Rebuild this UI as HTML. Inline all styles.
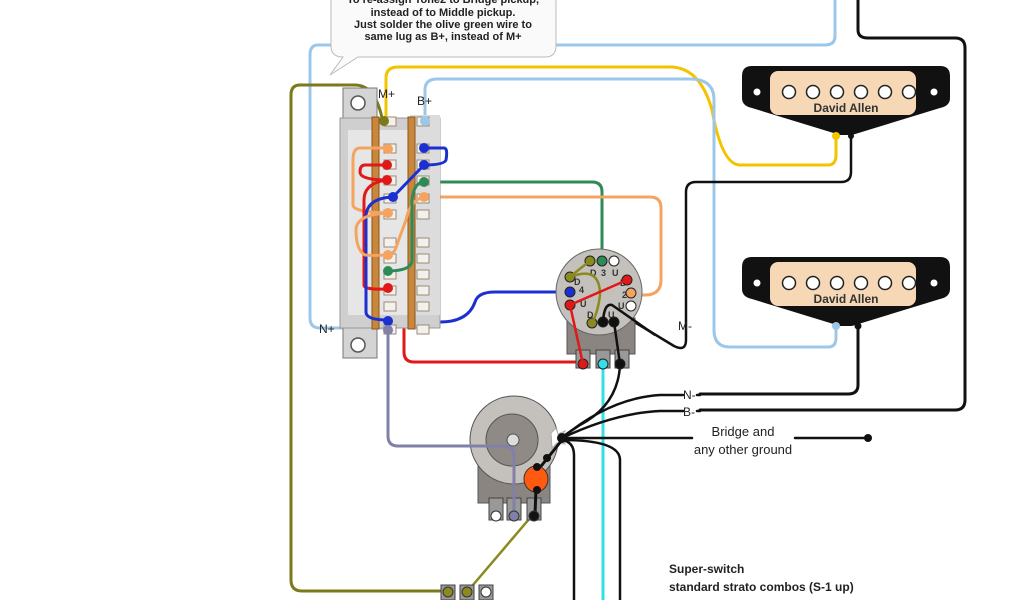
<!DOCTYPE html>
<html><head><meta charset="utf-8"><style>
html,body{margin:0;padding:0;background:#fff;}
svg{display:block;}
text{font-family:"Liberation Sans",sans-serif;}
</style></head><body>
<svg width="1024" height="600" viewBox="0 0 1024 600" xmlns="http://www.w3.org/2000/svg">
<rect width="1024" height="600" fill="#fff"/>
<g fill="none" stroke-linecap="round" stroke-linejoin="round">
<!-- light blue top -->
<path d="M835 0 V36 Q835 45 825 45 H555" stroke="#9cc7e8" stroke-width="3"/>
<path d="M330 45 H318 Q310 45 310 55 V318 Q310 328 320 328 H388" stroke="#9cc7e8" stroke-width="3"/>
<!-- black top -->
<path d="M858 0 V30 Q858 38 868 38 H955 Q965 38 965 48 V400 Q965 410 955 410 H700" stroke="#111" stroke-width="3"/>
<!-- yellow -->
<path d="M386 118 V78 Q386 67 398 67 H670 Q700 67 712 110 Q722 165 740 165 H828 Q836 165 836 155 V136" stroke="#f2c400" stroke-width="3"/>
<!-- light blue B+ -->
<path d="M425 118 V90 Q425 79 437 79 H690 Q714 79 714 100 V330 Q714 347 730 347 H828 Q836 347 836 338 V325" stroke="#9cc7e8" stroke-width="3"/>
<!-- black M- -->
<path d="M851 138 V172 Q851 182 841 182 H696 Q686 182 686 192 V340 Q686 352 674 346 L608 306" stroke="#111" stroke-width="2.5"/>
<!-- bottom pickup black -->
<path d="M858 325 V385 Q858 394 848 394 H700" stroke="#111" stroke-width="3"/>
<!-- green -->
<path d="M425 182 H592 Q602 182 602 192 V262" stroke="#2e8b57" stroke-width="3"/>
<!-- orange -->
<path d="M425 197 H650 Q661 197 661 208 V280 Q661 295 645 295 H625" stroke="#f4a460" stroke-width="3"/>
<!-- blue -->
<path d="M388 322 H440 Q468 322 475 302 Q478 292 495 292 H578" stroke="#1c2fd0" stroke-width="3"/>
<!-- red -->
<path d="M388 288 H398 Q404 288 404 298 V352 Q404 362 414 362 H584" stroke="#e01818" stroke-width="3"/>
<!-- olive -->
<path d="M382 118 Q375 85 355 85 H300 Q291 85 291 95 V580 Q291 591 302 591 H448" stroke="#7a7a1a" stroke-width="3"/>
<path d="M467 592 L530 518" stroke="#8a8a20" stroke-width="2.5"/>
<!-- purple -->
<path d="M388 330 V436 Q388 446 398 446 H502 Q512 446 512 456 V515" stroke="#8080a8" stroke-width="3"/>
<!-- cyan -->
<path d="M603 362 V600" stroke="#33e0e8" stroke-width="3"/>
<!-- ground wires -->
<path d="M562 438 Q610 398 660 395 H683 M697 395 H700" stroke="#111" stroke-width="2.5"/>
<path d="M562 438 Q615 413 660 411 H683 M697 411 H700" stroke="#111" stroke-width="2.5"/>
<path d="M562 438 H692 M795 438 H868" stroke="#111" stroke-width="2.5"/>
<path d="M562 440 Q574 442 574 455 V600" stroke="#111" stroke-width="2.5"/>
<path d="M562 440 Q620 440 620 460 V600" stroke="#111" stroke-width="2.5"/>
<path d="M620 365 Q618 405 580 425 L562 437" stroke="#111" stroke-width="2.5"/>
</g>
<circle cx="868" cy="438" r="4" fill="#111"/>

<!-- callout -->
<path d="M340 -10 H545 Q556 -10 556 2 V46 Q556 57 545 57 H358 L330 75 L343 57 Q331 57 331 46 V2 Q331 -10 340 -10Z" fill="#fafafa" stroke="#bbb" stroke-width="1"/>
<g font-size="11" font-weight="bold" fill="#222" text-anchor="middle">
<text x="443" y="3">To re-assign Tone2 to Bridge pickup,</text>
<text x="443" y="16">instead of to Middle pickup.</text>
<text x="443" y="28">Just solder the olive green wire to</text>
<text x="443" y="40">same lug as B+, instead of M+</text>
</g>

<!-- selector switch -->
<rect x="343" y="88" width="34" height="270" fill="#d4d4d4" stroke="#777"/>
<circle cx="358" cy="103" r="7" fill="#fff" stroke="#555" stroke-width="1.5"/>
<circle cx="358" cy="345" r="7" fill="#fff" stroke="#555" stroke-width="1.5"/>
<rect x="340" y="118" width="100" height="210" fill="#cfcfcf" stroke="#999"/>
<rect x="348" y="130" width="74" height="185" fill="#e6e6e6"/>
<rect x="410" y="115" width="30" height="200" fill="#dcdcdc"/>
<rect x="372" y="117" width="7" height="212" fill="#c8873a" stroke="#8a5420"/>
<rect x="408" y="117" width="7" height="212" fill="#c8873a" stroke="#8a5420"/>
<g fill="#f4f1ec" stroke="#9a8a78" stroke-width="1">
<rect x="384" y="117" width="12" height="9"/><rect x="417" y="117" width="12" height="9"/>
<rect x="384" y="144" width="12" height="9"/><rect x="384" y="160" width="12" height="9"/><rect x="384" y="176" width="12" height="9"/><rect x="384" y="194" width="12" height="9"/><rect x="384" y="210" width="12" height="9"/>
<rect x="384" y="238" width="12" height="9"/><rect x="384" y="254" width="12" height="9"/><rect x="384" y="270" width="12" height="9"/><rect x="384" y="286" width="12" height="9"/><rect x="384" y="302" width="12" height="9"/><rect x="384" y="325" width="12" height="9"/>
<rect x="417" y="144" width="12" height="9"/><rect x="417" y="160" width="12" height="9"/><rect x="417" y="176" width="12" height="9"/><rect x="417" y="194" width="12" height="9"/><rect x="417" y="210" width="12" height="9"/>
<rect x="417" y="238" width="12" height="9"/><rect x="417" y="254" width="12" height="9"/><rect x="417" y="270" width="12" height="9"/><rect x="417" y="286" width="12" height="9"/><rect x="417" y="302" width="12" height="9"/><rect x="417" y="325" width="12" height="9"/>
</g>
<g fill="none" stroke-width="3">
<path d="M387 148 H360 Q353 148 353 160 V205 Q353 212 387 213" stroke="#f4a460"/>
<path d="M387 165 H365 Q360 165 360 172 Q360 180 387 180" stroke="#e01818"/>
<path d="M387 180 Q364 183 364 200 V285 Q364 290 387 289" stroke="#e01818"/>
<path d="M393 197 Q368 198 366 215 V312 Q366 320 388 320" stroke="#1c2fd0"/>
<path d="M424 148 H444 Q448 148 446 160 Q444 165 424 165 L393 197" stroke="#1c2fd0"/>
<path d="M424 197 Q410 200 406 220 L395 250 Q392 257 365 255 Q356 250 356 230 Q356 215 387 213" stroke="#f4a460"/>
<path d="M424 182 Q414 182 412 200 V260 Q412 271 387 271" stroke="#2e8b57"/>
</g>
<g>
<circle cx="384" cy="121" r="5" fill="#7a7a1a"/><circle cx="425" cy="121" r="5" fill="#9cc7e8"/>
<circle cx="388" cy="149" r="5" fill="#f4a460"/><circle cx="387" cy="165" r="5" fill="#e01818"/><circle cx="387" cy="180" r="5" fill="#e01818"/><circle cx="393" cy="197" r="5" fill="#1c2fd0"/><circle cx="388" cy="213" r="5" fill="#f4a460"/>
<circle cx="388" cy="255" r="5" fill="#f4a460"/><circle cx="388" cy="271" r="5" fill="#2e8b57"/><circle cx="388" cy="288" r="5" fill="#e01818"/><circle cx="388" cy="321" r="5" fill="#1c2fd0"/><circle cx="388" cy="330" r="5" fill="#8080a8"/>
<circle cx="424" cy="148" r="5" fill="#1c2fd0"/><circle cx="424" cy="165" r="5" fill="#1c2fd0"/><circle cx="424" cy="182" r="5" fill="#2e8b57"/><circle cx="424" cy="197" r="5" fill="#f4a460"/>
</g>
<text x="378" y="98" font-size="12" fill="#222">M+</text>
<text x="417" y="105" font-size="12" fill="#222">B+</text>
<text x="319" y="333" font-size="12" fill="#222">N+</text>

<!-- rotary switch -->
<rect x="567" y="318" width="68" height="36" fill="#8a8580" stroke="#555"/>
<rect x="576" y="350" width="14" height="18" fill="#999" stroke="#444"/><rect x="596" y="350" width="14" height="18" fill="#999" stroke="#444"/><rect x="615" y="350" width="14" height="18" fill="#999" stroke="#444"/>
<circle cx="599" cy="292" r="43" fill="#c4c0bc" stroke="#666"/>
<g font-size="9" fill="#333" font-weight="bold"><text x="590" y="276">D</text><text x="601" y="276">3</text><text x="612" y="276">U</text><text x="574" y="285">D</text><text x="620" y="286">D</text><text x="579" y="293">4</text><text x="622" y="298">2</text><text x="580" y="307">U</text><text x="618" y="309">U</text><text x="587" y="318">D</text><text x="608" y="318">U</text></g>
<g stroke="#222" stroke-width="1">
<circle cx="590" cy="261" r="5" fill="#8a8a20"/><circle cx="602" cy="261" r="5" fill="#2e8b57"/><circle cx="614" cy="261" r="5" fill="#fff"/>
<circle cx="570" cy="277" r="5" fill="#8a8a20"/><circle cx="570" cy="292" r="5" fill="#1c2fd0"/><circle cx="570" cy="305" r="5" fill="#e01818"/>
<circle cx="627" cy="280" r="5" fill="#e01818"/><circle cx="631" cy="293" r="5" fill="#f4a460"/><circle cx="631" cy="306" r="5" fill="#fff"/>
<circle cx="592" cy="323" r="5" fill="#8a8a20"/><circle cx="603" cy="322" r="5" fill="#111"/><circle cx="614" cy="322" r="5" fill="#111"/>
<circle cx="583" cy="364" r="5" fill="#e01818"/><circle cx="603" cy="364" r="5" fill="#33e0e8"/><circle cx="620" cy="364" r="5" fill="#111"/>
</g>
<g fill="none" stroke-width="2.5">
<path d="M590 261 Q578 270 570 277" stroke="#8a8a20"/>
<path d="M570 277 Q600 265 600 295 Q598 312 592 323" stroke="#8a8a20"/>
<path d="M570 305 L627 280" stroke="#e01818"/>
<path d="M570 305 L583 364" stroke="#e01818"/>
<path d="M603 322 Q604 303 612 305 L655 335" stroke="#111"/>
<path d="M614 322 L620 364" stroke="#111"/>
</g>
<text x="678" y="330" font-size="12" fill="#222">M-</text>

<!-- pot -->
<rect x="478" y="455" width="72" height="48" fill="#8a8580" stroke="#555"/>
<rect x="489" y="498" width="14" height="22" fill="#999" stroke="#444"/><rect x="507" y="498" width="14" height="22" fill="#999" stroke="#444"/><rect x="527" y="498" width="14" height="22" fill="#999" stroke="#444"/>
<circle cx="514" cy="440" r="44" fill="#c4c0bc" stroke="#555"/>
<circle cx="512" cy="440" r="26" fill="#8f8a85" stroke="#555"/>
<circle cx="513" cy="440" r="6" fill="#ddd" stroke="#555"/>
<path d="M460 446 H502 Q514 446 514 456 V515" fill="none" stroke="#8080a8" stroke-width="3"/>
<path d="M551 433 L556 428 L558 434 L565 431 L560 438 L565 444 L557 443 L552 448 Z" fill="#fff" stroke="#aaa"/>
<path d="M562 440 L546 460 L538 470 M536 488 L535 515" stroke="#111" stroke-width="3" fill="none"/>
<ellipse cx="536" cy="479" rx="12" ry="13" fill="#ff5a10" stroke="#333"/>
<circle cx="562" cy="438" r="5" fill="#111"/><circle cx="547" cy="458" r="4" fill="#111"/><circle cx="537" cy="467" r="4" fill="#111"/><circle cx="537" cy="490" r="4" fill="#111"/>
<circle cx="496" cy="516" r="5" fill="#fff" stroke="#333"/><circle cx="514" cy="516" r="5" fill="#8080a8" stroke="#333"/><circle cx="534" cy="516" r="5" fill="#111" stroke="#333"/>

<!-- output terminals -->
<rect x="441" y="585" width="14" height="15" fill="#999" stroke="#444"/><rect x="460" y="585" width="14" height="15" fill="#999" stroke="#444"/><rect x="479" y="585" width="14" height="15" fill="#999" stroke="#444"/>
<circle cx="448" cy="592" r="5" fill="#8a8a20" stroke="#333"/><circle cx="467" cy="592" r="5" fill="#8a8a20" stroke="#333"/><circle cx="486" cy="592" r="5" fill="#fff" stroke="#333"/>

<!-- pickups -->
<g id="pu">
<path d="M752 66 H940 Q950 66 950 76 V98 Q950 106 940 108 L852 135 H840 L752 108 Q742 106 742 98 V76 Q742 66 752 66Z" fill="#111"/>
<rect x="770" y="71" width="146" height="44" rx="8" fill="#f6d8b6"/>
<circle cx="757" cy="92" r="3.5" fill="#fff"/><circle cx="934" cy="92" r="3.5" fill="#fff"/>
<g fill="#fff" stroke="#222" stroke-width="1.5"><circle cx="789" cy="92" r="6.5"/><circle cx="813" cy="92" r="6.5"/><circle cx="837" cy="92" r="6.5"/><circle cx="861" cy="92" r="6.5"/><circle cx="885" cy="92" r="6.5"/><circle cx="909" cy="92" r="6.5"/></g>
<text x="846" y="112" font-size="12" font-weight="bold" fill="#333" text-anchor="middle">David Allen</text>
</g>
<use href="#pu" y="191"/>
<circle cx="836" cy="136" r="4" fill="#f2c400"/><circle cx="851" cy="136" r="3" fill="#111"/>
<circle cx="836" cy="326" r="4" fill="#9cc7e8"/><circle cx="858" cy="326" r="3.5" fill="#111"/>

<g font-size="12" fill="#222">
<text x="683" y="399">N-</text><text x="683" y="416">B-</text>
<text x="743" y="436" text-anchor="middle" font-size="13">Bridge and</text>
<text x="743" y="454" text-anchor="middle" font-size="13">any other ground</text>
<text x="669" y="573" font-weight="bold">Super-switch</text>
<text x="669" y="591" font-weight="bold">standard strato combos (S-1 up)</text>
</g>
</svg>
</body></html>
